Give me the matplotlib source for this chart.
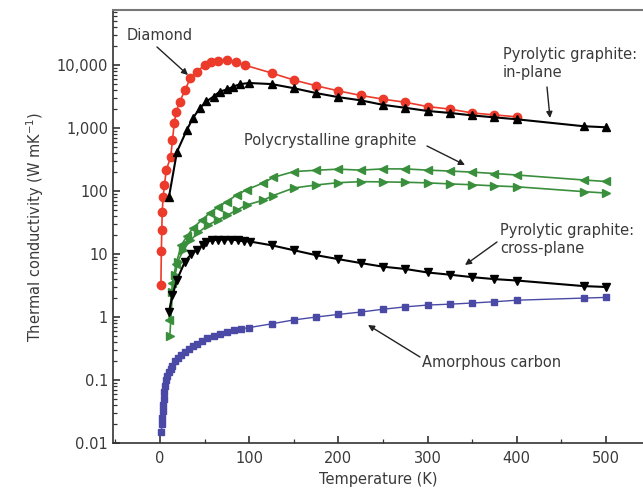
import numpy as np
import matplotlib
matplotlib.use('Agg')
import matplotlib.pyplot as plt
from matplotlib import ticker

plt.rcParams['font.family'] = ['DejaVu Sans']

# ---- data ----
T_dia = [1, 1.5, 2, 2.5, 3.5, 5, 7, 12, 14, 16, 18, 22, 28, 34, 41, 50, 57, 65, 75, 85, 95,
         125, 150, 175, 200, 225, 250, 275, 300, 325, 350, 375, 400]
k_dia = [3.2, 11, 24, 47, 81, 125, 215, 350, 650, 1200, 1800, 2600, 4000, 6200, 7800, 10000,
         11300, 11800, 11900, 11200, 10000, 7500, 5800, 4700, 3900, 3300, 2880, 2570, 2200,
         2000, 1740, 1620, 1510]

T_inpl = [10, 19, 30, 37, 45, 52, 60, 67, 75, 82, 90, 100, 125, 150, 175, 200, 225, 250,
          275, 300, 325, 350, 375, 400, 475, 500]
k_inpl = [80, 420, 930, 1450, 2100, 2650, 3170, 3800, 4100, 4550, 5000, 5200, 5000, 4300,
          3600, 3100, 2760, 2340, 2100, 1870, 1740, 1590, 1480, 1380, 1070, 1030]

T_poly1 = [10, 14, 18, 24, 30, 37, 47, 56, 65, 75, 86, 97, 116, 127, 150, 175, 200, 225,
           250, 275, 300, 325, 350, 375, 400, 475, 500]
k_poly1 = [0.9, 3.5, 7, 14, 19, 26, 35, 45, 56, 68, 87, 105, 135, 165, 204, 214, 223, 215,
           225, 225, 215, 208, 200, 190, 180, 150, 142]

T_poly2 = [11, 14, 17, 20, 26, 34, 43, 54, 65, 75, 86, 97, 116, 127, 150, 175, 200, 225,
           250, 275, 300, 325, 350, 375, 400, 475, 500]
k_poly2 = [0.5, 2.5, 4.7, 7.6, 11.5, 16.5, 22, 29, 35, 41, 50, 60, 72, 85, 112, 125, 136,
           141, 140, 138, 135, 130, 126, 121, 117, 98, 93]

T_cross = [10, 14, 19, 28, 35, 41, 48, 52, 58, 65, 72, 80, 87, 94, 101, 125, 150, 175, 200,
           225, 250, 275, 300, 325, 350, 375, 400, 475, 500]
k_cross = [1.2, 2.2, 3.9, 7.6, 10, 11.5, 14, 15.8, 16.5, 17, 17, 17, 16.5, 16, 15.8, 13.8,
           11.5, 9.6, 8.3, 7.2, 6.3, 5.8, 5.1, 4.7, 4.3, 4.0, 3.8, 3.1, 3.0]

T_amor = [1.5, 2, 2.5, 3, 3.5, 4, 5, 6, 7, 8, 10, 12, 14, 17, 20, 24, 28, 32, 37, 42, 47,
          53, 60, 67, 75, 83, 91, 100, 125, 150, 175, 200, 225, 250, 275, 300, 325, 350,
          375, 400, 475, 500]
k_amor = [0.015, 0.02, 0.025, 0.032, 0.04, 0.05, 0.065, 0.08, 0.1, 0.115, 0.135, 0.15, 0.17,
          0.2, 0.22, 0.25, 0.28, 0.31, 0.35, 0.38, 0.42, 0.46, 0.5, 0.54, 0.58, 0.62, 0.65,
          0.68, 0.78, 0.9, 1.0, 1.1, 1.2, 1.33, 1.45, 1.55, 1.6, 1.67, 1.75, 1.85, 2.0, 2.05]

yticks = [0.01, 0.1, 1, 10, 100, 1000, 10000]
ylabels = ['0.01', '0.1', '1', '10', '100', '1,000', '10,000']
xticks = [0, 100, 200, 300, 400, 500]

red = '#ec3a2b'
green = '#3a8f3c'
blue = '#4a4aa6'
txt = '#3a3a3a'

fig = plt.figure(figsize=(6.43, 4.98), dpi=100)
ax = fig.add_axes([113/643, 55/498, 1 - 113/643, 433/498])

ax.plot(T_amor, k_amor, '-s', color=blue, mec=blue, ms=4.2, lw=1.0)
ax.plot(T_poly2, k_poly2, '->', color=green, ms=5.5, lw=1.2)
ax.plot(T_poly1, k_poly1, '-<', color=green, ms=5.5, lw=1.2)
ax.plot(T_dia, k_dia, '-o', color=red, ms=6, lw=1.2)
ax.plot(T_inpl, k_inpl, '-^', color='black', ms=5.5, lw=1.5)
ax.plot(T_cross, k_cross, '-v', color='black', ms=5.5, lw=1.5)

ax.set_yscale('log')
ax.set_xlim(-52.7, 541.5)
ax.set_ylim(0.01, 7.5e4)
ax.set_yticks(yticks)
ax.set_yticklabels(ylabels)
ax.yaxis.set_minor_locator(ticker.LogLocator(base=10, subs=np.arange(2, 10), numticks=20))
ax.yaxis.set_minor_formatter(ticker.NullFormatter())
ax.set_xticks(xticks)
ax.xaxis.set_minor_locator(ticker.MultipleLocator(50))

ax.tick_params(which='both', direction='in', color='#333333', labelcolor=txt, labelsize=10.5)
ax.tick_params(which='major', length=5, width=1.2)
ax.tick_params(which='minor', length=3, width=0.9)
ax.tick_params(axis='x', pad=6)

for s in ['left', 'bottom']:
    ax.spines[s].set_linewidth(1.2)
    ax.spines[s].set_color('#333333')
ax.spines['top'].set_linewidth(1.5)
ax.spines['top'].set_color('#777777')
ax.spines['right'].set_visible(False)

ax.set_xlabel('Temperature (K)', fontsize=10.5, color=txt, labelpad=4)
ax.set_ylabel('Thermal conductivity (W mK$^{-1}$)', fontsize=10.5, color=txt, labelpad=8)


def fp(x, y):
    return (x / 643, 1 - y / 498)


arrow = dict(arrowstyle='-|>', color='#222222', lw=1.0, mutation_scale=9, shrinkA=0, shrinkB=0)
notes = [
    ('Diamond', (127, 35), (157, 47), (188, 75)),
    ('Pyrolytic graphite:\nin-plane', (503, 63), (547, 87), (550, 118)),
    ('Polycrystalline graphite', (244, 141), (427, 146), (465, 165)),
    ('Pyrolytic graphite:\ncross-plane', (500, 239), (497, 242), (465, 265)),
    ('Amorphous carbon', (422, 363), (420, 357), (368, 325)),
]
for label, tpos, a0, a1 in notes:
    fig.text(*fp(*tpos), label, ha='left', va='center', fontsize=10.5, color=txt,
             linespacing=1.25)
    ax.annotate('', xy=fp(*a1), xytext=fp(*a0), xycoords='figure fraction',
                textcoords='figure fraction', arrowprops=arrow)

fig.savefig('out.png', dpi=100)
